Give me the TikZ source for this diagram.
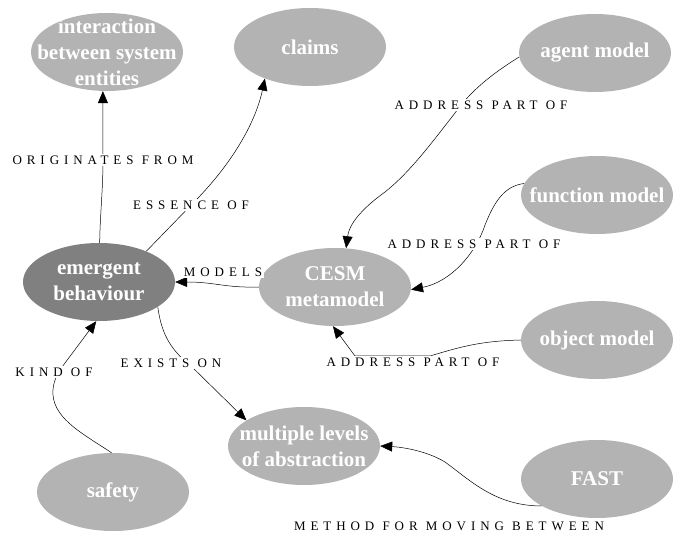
\documentclass[tikz,border=0pt]{standalone}
\usepackage{fontspec}
\setmainfont{Liberation Serif}
\newfontfamily\labfont[LetterSpace=38]{Liberation Serif}
\usetikzlibrary{shapes.geometric,arrows.meta}
\definecolor{nodegray}{HTML}{B3B3B3}
\definecolor{darkgray}{HTML}{808080}
\tikzset{
  ctext/.style={text=white, align=center, inner sep=0pt,
    font=\bfseries\fontsize{21}{26}\selectfont},
  concept/.style={ellipse, fill=nodegray, draw=none, inner sep=0pt,
    minimum width=152pt, minimum height=78pt,
    label={[ctext]center:{#1}}},
  dark/.style={concept={#1}, fill=darkgray},
  elabel/.style={fill=white, inner sep=2pt, font=\labfont\fontsize{13}{15}\selectfont},
  link/.style={draw=black, line width=0.5pt, -{Triangle[length=12pt,width=10pt]}},
}
\begin{document}
\begin{tikzpicture}[x=1pt,y=-1pt]
\useasboundingbox (0,0) rectangle (677,534);
% nodes
\node[concept={interaction\\between system\\entities}] (inter) at (107,52) {};
\node[concept={claims}] (claims) at (310,47) {};
\node[concept={agent model}] (agent) at (595,53) {};
\node[concept={function model}] (func) at (597,195) {};
\node[concept={CESM\\metamodel}] (cesm) at (335,287) {};
\node[dark={emergent\\behaviour}] (emerg) at (99,282) {};
\node[concept={object model}] (object) at (597,340) {};
\node[concept={multiple levels\\of abstraction}] (multi) at (304,446) {};
\node[concept={safety}] (safety) at (113,492) {};
\node[concept={FAST}] (fast) at (597,479) {};
% label coordinates
\coordinate (l1) at (103,160);
\coordinate (l2) at (191,205);
\coordinate (l3) at (481,105);
\coordinate (l4) at (474,244);
\coordinate (l5) at (223,272);
\coordinate (l6) at (413,362);
\coordinate (l7) at (171,363);
\coordinate (l8) at (54,372);
\coordinate (l9) at (449,526);
% edges
\draw[link] (emerg.89) .. controls (100,215) and (103,190) .. (103,160) -- (inter.264);
\draw[link] (emerg.33) -- (197,199) .. controls (230,165) and (255,125) .. (claims.215);
\draw[link] (agent.183) .. controls (490,75) and (470,92) .. (455,113)
   .. controls (430,145) and (410,172) .. (385,192) .. controls (360,210) and (349,225) .. (cesm.74);
\draw[link] (func.171) .. controls (505,186) and (495,200) .. (485,225)
   .. controls (475,255) and (450,282) .. (cesm.358);
\draw[link] (cesm.180) .. controls (225,288) and (215,282) .. (emerg.0);
\draw[link] (object.180) .. controls (480,341) and (460,347) .. (430,356) -- (355,356) -- (cesm.267);
\draw[link] (emerg.337) .. controls (161,330) and (168,348) .. (190,365) -- (multi.156);
\draw[link] (safety.92) .. controls (85,435) and (55,420) .. (53,395)
   .. controls (52,382) and (58,372) .. (65,363) -- (emerg.266);
\draw[link] (fast.206) .. controls (495,506) and (470,480) .. (445,462)
   .. controls (425,450) and (400,447) .. (multi.0);
% labels
\node[elabel] (t1) at (l1) {ORIGINATES FROM};
\node[elabel] (t2) at (l2) {ESSENCE OF};
\node[elabel] (t3) at (l3) {ADDRESS PART OF};
\node[elabel] (t4) at (l4) {ADDRESS PART OF};
\node[elabel] (t5) at (l5) {MODELS};
\node[elabel] (t6) at (l6) {ADDRESS PART OF};
\node[elabel] (t7) at (l7) {EXISTS ON};
\node[elabel] (t8) at (l8) {KIND OF};
\node[elabel] (t9) at (l9) {METHOD FOR MOVING BETWEEN};
\end{tikzpicture}
\end{document}
